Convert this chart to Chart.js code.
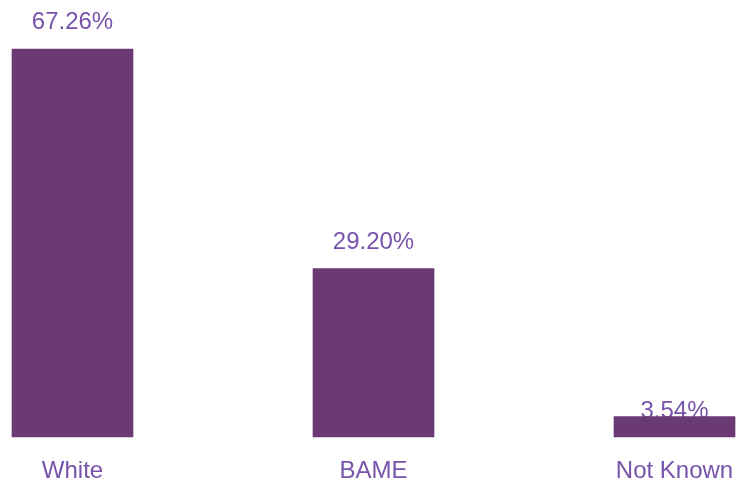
<!DOCTYPE html>
<html>
<head>
<meta charset="utf-8">
<title>Ethnicity breakdown</title>
<script src="https://cdn.jsdelivr.net/npm/chart.js@4/dist/chart.umd.min.js"></script>
<style>
  html, body { margin: 0; padding: 0; background: #ffffff; }
  canvas { display: block; }
</style>
</head>
<body>
<canvas id="chart" width="736" height="485"></canvas>
<script>
// Share of people by ethnicity group (percent)
const categories = ['White', 'BAME', 'Not Known'];
const shares = [67.26, 29.20, 3.54];

const BAR_COLOR = '#6b3a75';
const TEXT_COLOR = '#7853ab';
const FONT_FAMILY = '"Liberation Sans", Arial, Helvetica, sans-serif';

// Percent labels above each bar; drawn before the bars so a short bar sits over its label
const valueLabels = {
  id: 'valueLabels',
  beforeDatasetsDraw(chart) {
    const { ctx } = chart;
    const meta = chart.getDatasetMeta(0);
    ctx.save();
    ctx.font = '24px ' + FONT_FAMILY;
    ctx.fillStyle = TEXT_COLOR;
    ctx.textAlign = 'center';
    ctx.textBaseline = 'alphabetic';
    meta.data.forEach((bar, i) => {
      const v = chart.data.datasets[0].data[i];
      const h = bar.base - bar.y;
      // tall bars: label 20px above the top; short bars: label rests on the baseline band
      const y = h > 40 ? bar.y - 20 : bar.base - 19;
      ctx.fillText(v.toFixed(2) + '%', bar.x, y);
    });
    ctx.restore();
  }
};

new Chart(document.getElementById('chart'), {
  type: 'bar',
  data: {
    labels: categories,
    datasets: [{
      data: shares,
      backgroundColor: BAR_COLOR,
      borderWidth: 0,
      barThickness: 121,
      clip: false
    }]
  },
  options: {
    responsive: false,
    animation: false,
    devicePixelRatio: 1,
    layout: { padding: { left: 72.5, right: 61.5, top: 0, bottom: 0 } },
    plugins: {
      legend: { display: false },
      tooltip: { enabled: false }
    },
    scales: {
      x: {
        offset: false,
        grid: { display: false, drawTicks: false },
        border: { display: false },
        ticks: {
          color: TEXT_COLOR,
          padding: 20,
          maxRotation: 0,
          autoSkip: false,
          font: { family: FONT_FAMILY, size: 24 }
        },
        afterFit(scale) {
          // fixed band for the category names; category points span the padded area
          scale.height = 48;
          scale.paddingLeft = 0;
          scale.paddingRight = 0;
        }
      },
      y: {
        display: false,
        min: 0,
        max: 75.75
      }
    }
  },
  plugins: [valueLabels]
});
</script>
</body>
</html>
